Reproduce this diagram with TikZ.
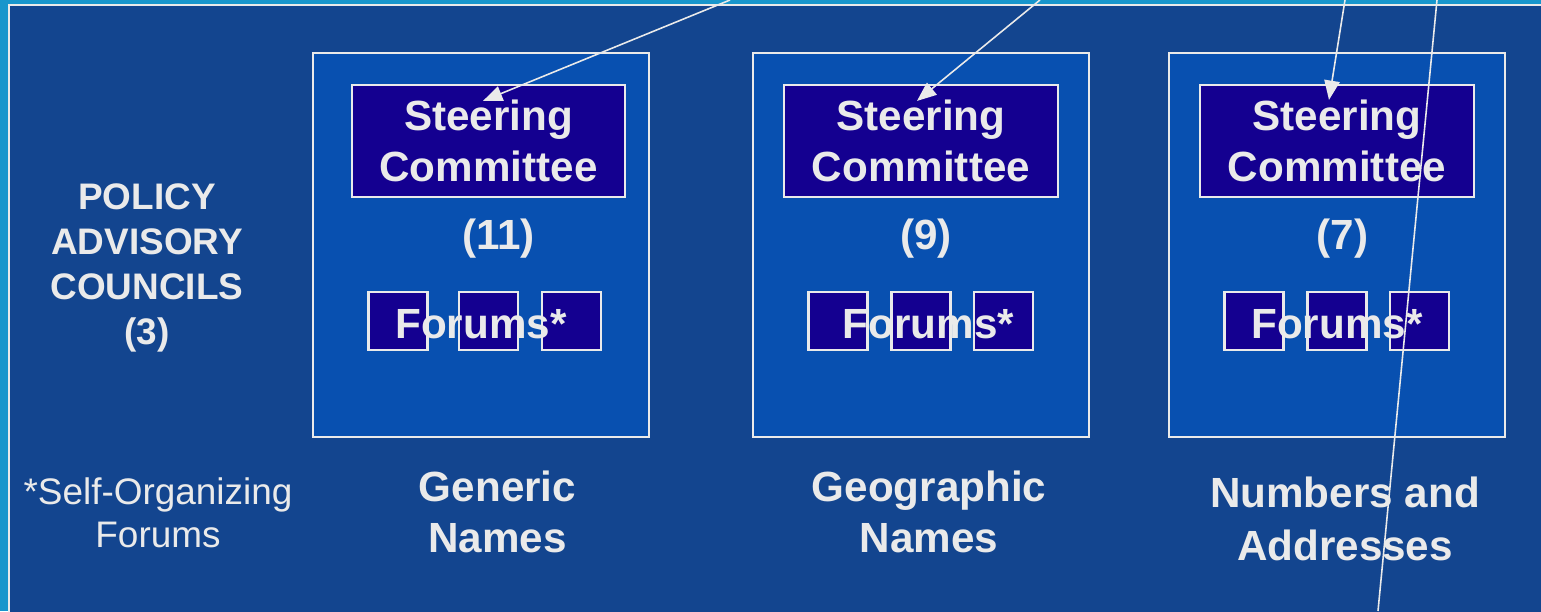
\documentclass[tikz,border=0pt]{standalone}
\usepackage{fontspec}
\setmainfont{Liberation Sans}
\usetikzlibrary{arrows.meta,positioning,calc}
\definecolor{bgBlue}{RGB}{19,69,143}
\definecolor{edgeBlue}{RGB}{24,150,204}
\definecolor{groupBlue}{RGB}{8,80,176}
\definecolor{steerBlue}{RGB}{20,0,144}
\definecolor{txtGrey}{RGB}{234,234,234}
\newcommand{\bigFont}{\fontsize{12pt}{14.5pt}\selectfont\bfseries}
\newcommand{\sideFont}{\fontsize{10.5pt}{12.8pt}\selectfont}

\begin{document}
\begin{tikzpicture}[x=0.01cm, y=-0.01cm,
    groupbox/.style={draw=txtGrey, line width=0.6pt, fill=groupBlue, minimum width=3.36cm, minimum height=3.84cm, inner sep=0pt},
    steerbox/.style={draw=txtGrey, line width=0.6pt, fill=steerBlue, minimum width=2.73cm, minimum height=1.12cm, inner sep=0pt, text=txtGrey, align=center, font=\bigFont},
    forumbox/.style={draw=txtGrey, line width=0.6pt, fill=steerBlue, minimum width=0.59cm, minimum height=0.58cm, inner sep=0pt},
    label/.style={text=txtGrey, align=center, font=\bigFont, inner sep=0pt},
    arr/.style={draw=txtGrey, line width=0.45pt, -{Triangle[length=5.5pt,width=4.4pt]}}]
    \useasboundingbox (0,0) rectangle (1541,611);
    % frame
    \fill[edgeBlue] (0,0) rectangle (1541,611);
    \draw[txtGrey, line width=0.7pt, fill=bgBlue] (9,5) rectangle (1560,630);

    % the three groups
    \node[groupbox] (g1) at (481,245) {};
    \node[groupbox] (g2) at (921,245) {};
    \node[groupbox] (g3) at (1337,245) {};

    \node[steerbox] (sc1) at (488.5,141) {Steering\\Committee};
    \node[steerbox] (sc2) at (921,141) {Steering\\Committee};
    \node[steerbox] (sc3) at (1337,141) {Steering\\Committee};

    \node[label] (n1) at (498.5,239) {(11)};
    \node[label] (n2) at (926,239) {(9)};
    \node[label] (n3) at (1342.5,239) {(7)};

    \node[forumbox] (f1a) at (398,321) {};
    \node[forumbox] (f1b) at (488.5,321) {};
    \node[forumbox] (f1c) at (571.5,321) {};
    \node[forumbox] (f2a) at (838,321) {};
    \node[forumbox] (f2b) at (921,321) {};
    \node[forumbox] (f2c) at (1003.5,321) {};
    \node[forumbox] (f3a) at (1254,321) {};
    \node[forumbox] (f3b) at (1337,321) {};
    \node[forumbox] (f3c) at (1419.5,321) {};
    \node[label] (fl1) at (481,324) {Forums*};
    \node[label] (fl2) at (928.5,324) {Forums*};
    \node[label] (fl3) at (1337,324) {Forums*};

    \node[label] (gen) at (497.5,512) {Generic\\Names};
    \node[label] (geo) at (929,512) {Geographic\\Names};
    \node[label, font=\fontsize{12pt}{15.1pt}\selectfont\bfseries] (num) at (1345,519) {Numbers and\\Addresses};

    % left side
    \node[label, font=\sideFont\bfseries] (pac) at (147,268) {POLICY\\ADVISORY\\COUNCILS\\(3)};
    \node[label, font=\fontsize{10.5pt}{12.2pt}\selectfont] (note) at (158,513) {*Self-Organizing\\Forums};

    % incoming lines
    \coordinate (in1) at (730,0);
    \coordinate (in2) at (1040,0);
    \coordinate (in3) at (1345,0);
    \coordinate (lineTop) at (1437,0);
    \coordinate (lineBot) at (1378,611);
    \draw[arr] (in1) -- ([xshift=-0.055cm, yshift=-0.17cm]sc1.north);
    \draw[arr] (in2) -- ([xshift=-0.04cm, yshift=-0.17cm]sc2.north);
    \draw[arr] (in3) -- ([xshift=-0.08cm, yshift=-0.16cm]sc3.north);
    \draw[txtGrey, line width=0.45pt] (lineTop) -- (lineBot);
\end{tikzpicture}
\end{document}
